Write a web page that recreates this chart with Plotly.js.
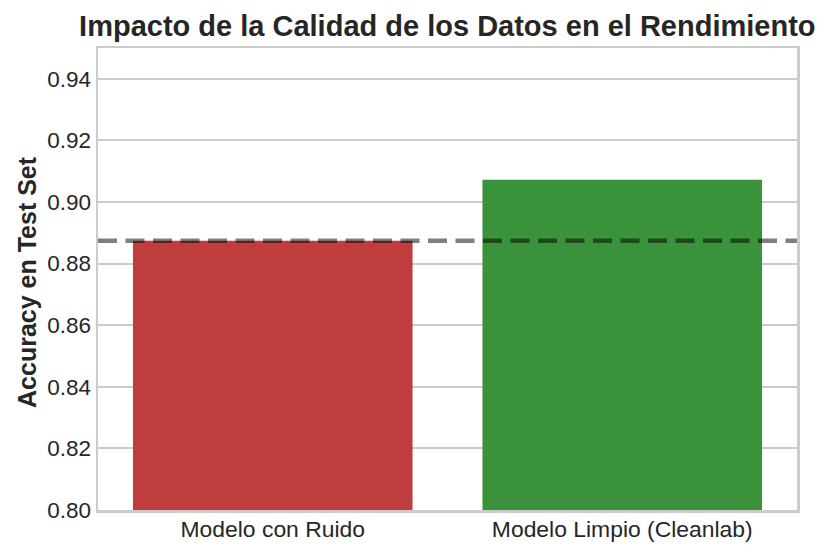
<!DOCTYPE html>
<html>
<head>
<meta charset="utf-8">
<script src="https://cdn.plot.ly/plotly-3.0.1.min.js"></script>
<style>html,body{margin:0;padding:0;background:#fff;}#chart{width:833px;height:556px;}</style>
</head>
<body>
<div id="chart"></div>
<script>
const categories = ["Modelo con Ruido", "Modelo Limpio (Cleanlab)"];
const accuracy = [0.8874, 0.9072];
const barColors = ["#c03d3e", "#3a923a"];
const baselineAccuracy = 0.8874;
const yTicks = [0.80, 0.82, 0.84, 0.86, 0.88, 0.90, 0.92, 0.94];
const yTitle = "Accuracy en Test Set";

const font = "Liberation Sans, Arial, sans-serif";
const trace = {
  type: "bar",
  x: categories,
  y: accuracy,
  width: 0.8,
  marker: {color: barColors, line: {width: 0}},
  hoverinfo: "skip"
};
const layout = {
  width: 833, height: 556,
  margin: {l: 98, r: 36, t: 48, b: 46},
  paper_bgcolor: "#fff", plot_bgcolor: "#fff",
  font: {family: font, color: "#262626"},
  title: {text: "<b>Impacto de la Calidad de los Datos en el Rendimiento</b>",
          font: {size: 29, family: font, color: "#262626"},
          x: 0.537, xanchor: "center", y: 0.953, yanchor: "middle"},
  xaxis: {
    range: [-0.5, 1.5], showgrid: false, zeroline: false,
    showline: true, mirror: true, linecolor: "#cccccc", linewidth: 2.5,
    ticks: "", ticklabelstandoff: -3, tickfont: {size: 22.9, color: "#262626"}
  },
  yaxis: {
    range: [0.80, 0.95], tickvals: yTicks, ticktext: yTicks.map(v => v.toFixed(2)),
    showgrid: true, gridcolor: "#cccccc", gridwidth: 2, zeroline: false,
    showline: true, mirror: true, linecolor: "#cccccc", linewidth: 2.5,
    ticks: "", ticklabelstandoff: 0,
    tickfont: {size: 22.5, color: "#262626"}
  },
  annotations: [{
    text: "<b>" + yTitle + "</b>", xref: "paper", yref: "paper",
    x: -0.1016, y: 0.4935, xanchor: "center", yanchor: "middle",
    textangle: -90, showarrow: false, font: {size: 25, color: "#262626", family: font}
  }],
  shapes: [{
    type: "line", xref: "paper", x0: 0, x1: 1, yref: "y", y0: baselineAccuracy, y1: baselineAccuracy,
    line: {color: "rgba(0,0,0,0.5)", width: 4.5, dash: "19px,8.5px"}, layer: "above"
  }],
  showlegend: false,
  bargap: 0.2
};
Plotly.newPlot("chart", [trace], layout, {displayModeBar: false, staticPlot: true});
</script>
</body>
</html>
